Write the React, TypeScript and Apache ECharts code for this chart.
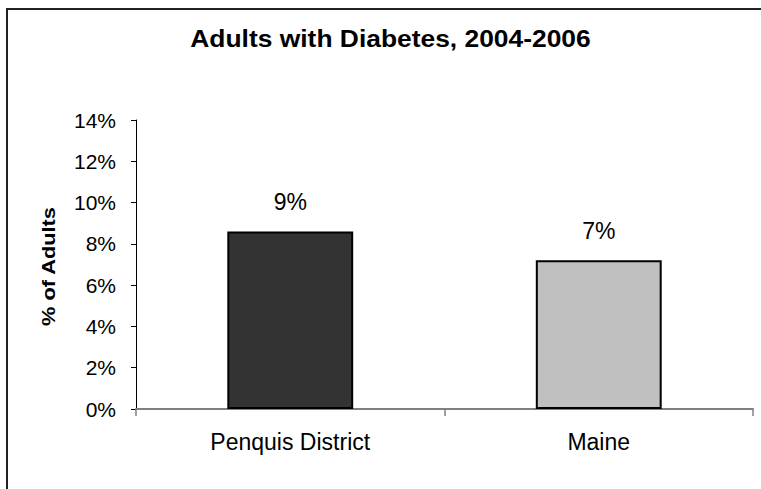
import React, { useEffect, useRef } from "react";
import * as echarts from "echarts";

const categories = ["Penquis District", "Maine"];
const values = [8.6, 7.2];
const barColors = ["#333333", "#C0C0C0"];
const yTicks = { min: 0, max: 14, interval: 2 };
const titleText = "Adults with Diabetes, 2004-2006";
const yAxisName = "% of Adults";

const FONT = "'Liberation Sans', Arial, Helvetica, sans-serif";

export default function App() {
  const ref = useRef<HTMLDivElement>(null);
  useEffect(() => {
    document.body.style.margin = "0";
    document.body.style.overflow = "hidden";
    if (!ref.current) return;
    const chart = echarts.init(ref.current, undefined, { renderer: "svg" });
    chart.setOption({
      animation: false,
      backgroundColor: "#ffffff",
      textStyle: { fontFamily: FONT },
      grid: { left: 136, right: 8, top: 120, bottom: 80, containLabel: false },
      graphic: [
        {
          type: "text",
          x: 390.5,
          y: 39,
          scaleX: 1.2,
          scaleY: 1.05,
          style: {
            text: titleText,
            font: `bold 22px ${FONT}`,
            fill: "#000000",
            textAlign: "center",
            textVerticalAlign: "middle",
            verticalAlign: "middle",
          },
        },
        {
          type: "text",
          x: 48.5,
          y: 266.5,
          rotation: Math.PI / 2,
          scaleX: 1.36,
          scaleY: 1.15,
          style: {
            text: yAxisName,
            font: `900 16px ${FONT}`,
            fill: "#000000",
            textAlign: "center",
            textVerticalAlign: "middle",
            verticalAlign: "middle",
          },
        },
      ],
      xAxis: {
        type: "category",
        data: categories,
        boundaryGap: true,
        axisLine: { show: true, lineStyle: { color: "#808080", width: 2 } },
        axisTick: { show: true, length: 7, alignWithLabel: false, lineStyle: { color: "#808080", width: 1.5 } },
        axisLabel: { color: "#000000", fontSize: 23, fontFamily: FONT, margin: 21 },
        splitLine: { show: false },
      },
      yAxis: {
        type: "value",
        min: yTicks.min,
        max: yTicks.max,
        interval: yTicks.interval,
        axisLine: { show: true, lineStyle: { color: "#000000", width: 1 } },
        axisTick: { show: true, length: 5, lineStyle: { color: "#000000", width: 1 } },
        axisLabel: { color: "#000000", fontSize: 21, fontFamily: FONT, margin: 20, formatter: "{value}%" },
        splitLine: { show: false },
      },
      series: [
        {
          type: "bar",
          barWidth: "40.8%",
          data: values.map((v, i) => ({
            value: v,
            itemStyle: { color: barColors[i], borderColor: "#000000", borderWidth: 2 },
          })),
          label: {
            show: true,
            position: "top",
            distance: 18,
            color: "#000000",
            fontSize: 23,
            fontFamily: FONT,
            formatter: (p: any) => `${Math.round(p.value)}%`,
          },
        },
      ],
    });
    return () => chart.dispose();
  }, []);
  return (
    <div style={{ position: "fixed", left: 0, top: 0, width: 761, height: 489, overflow: "hidden", background: "#fff" }}>
      <div ref={ref} style={{ position: "absolute", left: 0, top: 0, width: 761, height: 489 }} />
      <div
        style={{
          position: "absolute",
          left: 6,
          top: 8,
          width: 900,
          height: 700,
          borderTop: "2px solid #222",
          borderLeft: "2px solid #222",
          pointerEvents: "none",
        }}
      />
    </div>
  );
}
